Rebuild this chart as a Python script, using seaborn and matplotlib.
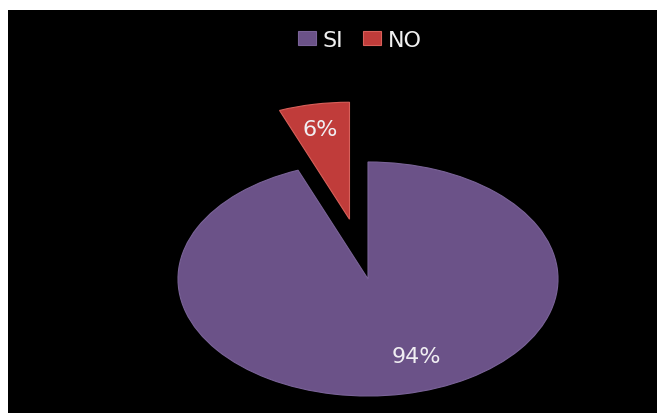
import matplotlib
matplotlib.use('Agg')  # no display here
import matplotlib.pyplot as plt
import seaborn as sns

labels = ['SI', 'NO']
values = [94, 6]
pct_labels = ['94%', '6%']
colors = ['#6b5288', '#c03c3a']
rim_colors = ['#7a6398', '#d8605a']

sns.set_theme(style='dark')
plt.rcParams['font.family'] = ['DejaVu Sans']

fig = plt.figure(figsize=(6.57, 4.14), dpi=100, facecolor='white')
# black panel runs off the right and bottom edges
ax = fig.add_axes([8/657, 0, 649/657, 403/414])
ax.set_facecolor('black')

wedges, _ = ax.pie(values, colors=colors, startangle=90, counterclock=False,
                   explode=[0, 0.52], radius=1,
                   wedgeprops=dict(linewidth=0.8))
for w, c in zip(wedges, rim_colors):
    w.set_edgecolor(c)
ax.set_aspect('auto')
ax.set_frame_on(True)
for s in ax.spines.values():
    s.set_visible(False)

# map panel pixels to data: centre (368, 280), radii 190 x 117
ax.set_xlim((8 - 368) / 190, (657 - 368) / 190)
ax.set_ylim((280 - 414) / 117, (280 - 11) / 117)

ax.text(0.253, -0.66, pct_labels[0], color='#f0eef2', fontsize=16, ha='center', va='center')
ax.text(-0.25, 1.28, pct_labels[1], color='#f0eef2', fontsize=16, ha='center', va='center')

leg = ax.legend(wedges, labels, loc='center', bbox_to_anchor=(0.542, 0.925), ncol=2,
                frameon=False, fontsize=16, labelcolor='#f0f0f0', borderpad=0, borderaxespad=0,
                handlelength=0.8, handleheight=0.6, handletextpad=0.3, columnspacing=0.9)

fig.savefig('out.png', dpi=100, facecolor='white')
